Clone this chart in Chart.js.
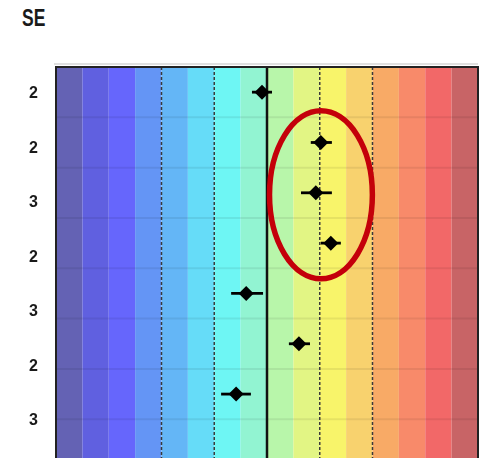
<!DOCTYPE html>
<html>
<head>
<meta charset="utf-8">
<script src="https://cdn.jsdelivr.net/npm/chart.js@4/dist/chart.umd.min.js"></script>
<style>
  html, body { margin: 0; padding: 0; background: #fff; overflow: hidden; }
  #wrap { position: relative; width: 479px; height: 458px; }
  #title { position: absolute; left: 22px; top: 5px; font: bold 23px "Liberation Sans", Arial, sans-serif;
           color: #1a1a1a; transform: scaleX(0.76); transform-origin: left top; }
  canvas { position: absolute; left: 0; top: 0; }
</style>
</head>
<body>
<div id="wrap">
  <div id="title">SE</div>
  <canvas id="chart" width="479" height="458"></canvas>
</div>
<script>
// rows, top to bottom
const rows = [1, 2, 3, 4, 5, 6, 7];
const seLabels = ['2', '2', '3', '2', '3', '2', '3'];
const estimates = [-0.19, 2.04, 1.85, 2.42, -0.79, 1.21, -1.17];
const lower = [-0.57, 1.66, 1.29, 2.04, -1.36, 0.83, -1.74];
const upper = [0.19, 2.46, 2.46, 2.80, -0.15, 1.63, -0.61];
const dashedAt = [-4, -2, 2, 4];
const highlightRows = [2, 4];

const stripeColors = ['#6462b4', '#6060e0', '#6666fc', '#6495f5', '#64b6f6', '#66dcf8', '#6ef6f4', '#92f4d2',
                      '#b8f6aa', '#e2f584', '#f8f46a', '#f8d26e', '#f8aa66', '#f88a6a', '#f26868', '#c86466'];

const backdrop = {
    id: 'backdrop',
    beforeDatasetsDraw(chart) {
        const {ctx, chartArea: a, scales: {x, y}} = chart;
        ctx.save();
        // colour stripes, one per unit
        stripeColors.forEach((c, i) => {
            const x0 = x.getPixelForValue(x.min + i);
            const x1 = x.getPixelForValue(x.min + i + 1);
            ctx.fillStyle = c;
            ctx.fillRect(x0, a.top, x1 - x0, a.bottom - a.top);
        });
        // row separators
        ctx.strokeStyle = 'rgba(0,0,0,0.07)';
        ctx.lineWidth = 2;
        for (let r = 1.5; r < y.max; r++) {
            const py = y.getPixelForValue(r);
            ctx.beginPath(); ctx.moveTo(a.left, py); ctx.lineTo(a.right, py); ctx.stroke();
        }
        // dashed reference lines
        ctx.strokeStyle = '#3a3a3a';
        ctx.lineWidth = 1.5;
        ctx.setLineDash([3, 2]);
        dashedAt.forEach(v => {
            const px = x.getPixelForValue(v);
            ctx.beginPath(); ctx.moveTo(px, a.top); ctx.lineTo(px, a.bottom); ctx.stroke();
        });
        ctx.setLineDash([]);
        // zero line
        ctx.strokeStyle = '#111';
        ctx.lineWidth = 2.5;
        const z = x.getPixelForValue(0);
        ctx.beginPath(); ctx.moveTo(z, a.top); ctx.lineTo(z, a.bottom); ctx.stroke();
        // error bars
        ctx.strokeStyle = '#000';
        ctx.lineWidth = 2.8;
        rows.forEach((r, i) => {
            const py = y.getPixelForValue(r);
            ctx.beginPath();
            ctx.moveTo(x.getPixelForValue(lower[i]), py);
            ctx.lineTo(x.getPixelForValue(upper[i]), py);
            ctx.stroke();
        });
        // frame
        ctx.strokeStyle = 'rgba(0,0,0,0.12)';
        ctx.lineWidth = 2;
        ctx.beginPath(); ctx.moveTo(a.left - 2, a.top - 3); ctx.lineTo(a.right, a.top - 3); ctx.stroke();
        ctx.strokeStyle = '#222';
        ctx.lineWidth = 2;
        ctx.strokeRect(a.left, a.top, a.right - a.left, a.bottom - a.top + 4);
        ctx.restore();
    },
    afterDatasetsDraw(chart) {
        const {ctx, scales: {x, y}} = chart;
        const i0 = highlightRows[0] - 1, i1 = highlightRows[1] - 1;
        const lo = Math.min(...lower.slice(i0, i1 + 1)), hi = Math.max(...upper.slice(i0, i1 + 1));
        const cx = (x.getPixelForValue(lo) + x.getPixelForValue(hi)) / 2;
        const cy = (y.getPixelForValue(highlightRows[0]) + y.getPixelForValue(highlightRows[1])) / 2 + 2;
        const rx = x.getPixelForValue(3.95) - x.getPixelForValue(2);
        const ry = y.getPixelForValue(4.67) - y.getPixelForValue(3);
        ctx.save();
        ctx.strokeStyle = '#c4000a';
        ctx.lineWidth = 5.5;
        ctx.beginPath();
        ctx.ellipse(cx, cy, rx, ry, 0, 0, Math.PI * 2);
        ctx.stroke();
        ctx.restore();
    }
};

new Chart(document.getElementById('chart'), {
    type: 'scatter',
    data: {
        datasets: [{
            label: 'SE',
            data: rows.map((r, i) => ({x: estimates[i], y: r})),
            pointStyle: 'rectRot',
            pointRadius: 7.5,
            pointHoverRadius: 7.5,
            backgroundColor: '#000',
            borderColor: '#000',
            borderWidth: 0,
            yAxisID: 'y'
        }]
    },
    options: {
        responsive: false,
        animation: false,
        devicePixelRatio: 1,
        layout: {autoPadding: false, padding: {top: 67, left: 0, right: 1, bottom: 0}},
        plugins: {legend: {display: false}, tooltip: {enabled: false}},
        scales: {
            x: {type: 'linear', min: -8, max: 8, display: false},
            y: {type: 'linear', reverse: true, min: 0.5, max: 8.27, display: false},
            ySE: {
                type: 'linear',
                position: 'left',
                reverse: true,
                min: 0.505,
                max: 7.68,
                grid: {display: false},
                border: {display: false},
                afterBuildTicks: scale => { scale.ticks = rows.map(v => ({value: v})); },
                afterFit: scale => {
                    scale.width = 56;
                    scale.paddingTop = 0;
                    scale.paddingBottom = 0;
                },
                ticks: {
                    padding: 10,
                    color: '#1a1a1a',
                    font: {family: '"Liberation Sans Narrow", "Liberation Sans", Arial', weight: 'bold', size: 16},
                    callback: v => seLabels[v - 1]
                }
            }
        }
    },
    plugins: [backdrop]
});
</script>
</body>
</html>
